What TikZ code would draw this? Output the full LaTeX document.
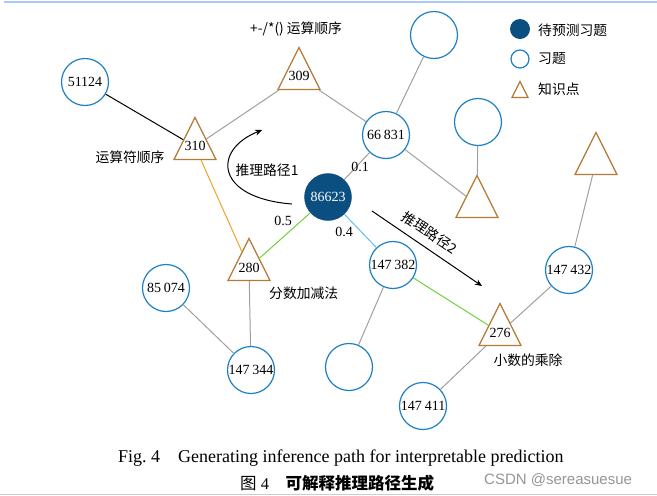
\documentclass[tikz,border=0pt]{standalone}
\usepackage{fontspec}
\setmainfont{Liberation Serif}
\newfontfamily\cjk{Noto Sans CJK SC}
\newfontfamily\wm{Liberation Sans}
\usetikzlibrary{shapes.geometric,arrows.meta}
\definecolor{circblue}{RGB}{30,128,196}
\definecolor{fillblue}{RGB}{11,79,129}
\definecolor{tribrown}{RGB}{181,122,53}
\definecolor{edgegrey}{RGB}{160,160,160}
\definecolor{edgeorange}{RGB}{245,160,40}
\definecolor{edgegreen}{RGB}{110,210,60}
\definecolor{edgelblue}{RGB}{100,190,240}
\definecolor{topline}{RGB}{170,200,250}
\definecolor{wmgrey}{RGB}{150,150,150}
\begin{document}
\begin{tikzpicture}[x=1pt,y=-1pt,
  circ/.style={circle,draw=circblue,line width=1.2pt,minimum size=47pt,inner sep=0pt,font=\fontsize{14}{16}\selectfont},
  pred/.style={circle,fill=fillblue,draw=fillblue,minimum size=47pt,inner sep=0pt,text=white,font=\fontsize{14}{16}\selectfont},
  tri/.style={isosceles triangle,isosceles triangle stretches,shape border rotate=90,draw=tribrown,line width=1.2pt,inner sep=0pt,minimum width=42pt,minimum height=42pt,anchor=apex},
  num/.style={inner sep=0pt,font=\fontsize{14}{16}\selectfont},
  zh/.style={inner sep=0pt,font=\cjk\fontsize{13.8}{16}\selectfont},
  gedge/.style={draw=edgegrey,line width=1pt},
  arr/.style={line width=1pt,-{Stealth[length=7pt,width=6pt]}}
]
\useasboundingbox (0,0) rectangle (657,496);
\fill[white] (0,0) rectangle (657,496);
\draw[topline,line width=2pt] (4,2) -- (657,2);
\draw[black!20,line width=0.8pt] (0,494) -- (657,494);

% nodes
\node[circ] (c51124) at (85,82) {51124};
\node[tri] (k310) at (195,116) {};
\node[num] (k310n) at (195,146) {310};
\node[tri] (k309) at (299,46) {};
\node[num] (k309n) at (299,76) {309};
\node[circ] (c66831) at (386,135) {66\hspace{3pt}831};
\node[circ] (ctop) at (434,35) {};
\node[circ] (cright) at (478,122) {};
\node[tri] (kright) at (477,174) {};
\node[tri] (kfar) at (596,131) {};
\node[pred] (p86623) at (328,197) {86623};
\node[tri] (k280) at (249,237) {};
\node[num] (k280n) at (249,268) {280};
\node[circ] (c147382) at (393,265) {147\hspace{3pt}382};
\node[circ] (c85074) at (166,288) {85\hspace{3pt}074};
\node[circ] (c147344) at (251,370) {147\hspace{3pt}344};
\node[circ] (clow) at (349,367) {};
\node[tri] (k276) at (500,302) {};
\node[num] (k276n) at (500,333) {276};
\node[circ] (c147432) at (569,270) {147\hspace{3pt}432};
\node[circ] (c147411) at (423,406) {147\hspace{3pt}411};

% edges
\draw[line width=1pt] (c51124) -- (k310);
\draw[gedge] (k310) -- (k309);
\draw[gedge] (k309) -- (c66831);
\draw[gedge] (c66831) -- (ctop);
\draw[gedge] (c66831) -- (kright);
\draw[gedge] (cright) -- (kright);
\draw[gedge] (p86623) -- (c66831);
\draw[draw=edgeorange,line width=1pt] (k310) -- (k280);
\draw[draw=edgegreen,line width=1pt] (p86623) -- (k280);
\draw[draw=edgelblue,line width=1pt] (p86623) -- (c147382);
\draw[gedge] (k280) -- (c147344);
\draw[gedge] (c85074) -- (c147344);
\draw[gedge] (c147382) -- (clow);
\draw[draw=edgegreen,line width=1pt] (c147382) -- (k276);
\draw[gedge] (k276) -- (c147432);
\draw[gedge] (k276) -- (c147411);
\draw[gedge] (kfar) -- (c147432);

% weights
\node[num] (w01) at (360,167) {0.1};
\node[num] (w05) at (283,221) {0.5};
\node[num] (w04) at (344,232) {0.4};

% texts
\node[zh,anchor=west] (t309) at (250,29) {+-/*()\hspace{3pt}运算顺序};
\node[zh] (t310) at (130,157) {运算符顺序};
\node[zh,anchor=west] (t280) at (269,293) {分数加减法};
\node[zh] (t276) at (528,360) {小数的乘除};

% inference paths
\coordinate (a1s) at (292,204);
\coordinate (a1e) at (262,130);
\draw[arr] (a1s) .. controls (215,198) and (212,150) .. (a1e);
\node[zh] (p1) at (267,170) {推理路径1};
\coordinate (a2s) at (372,211);
\coordinate (a2e) at (482,286);
\draw[arr] (a2s) -- node[zh,sloped,above,inner sep=8pt,pos=0.45] (p2) {推理路径2} (a2e);

% legend
\node[circle,fill=fillblue,minimum size=20pt,inner sep=0pt] (lg1) at (520,29) {};
\node[zh,anchor=west] (lg1t) at (538,30) {待预测习题};
\node[circle,draw=circblue,line width=1.2pt,minimum size=18pt,inner sep=0pt] (lg2) at (520,59) {};
\node[zh,anchor=west] (lg2t) at (538,59) {习题};
\node[isosceles triangle,isosceles triangle stretches,shape border rotate=90,draw=tribrown,line width=1.2pt,inner sep=0pt,minimum width=16pt,minimum height=16pt,anchor=apex] (lg3) at (520,80) {};
\node[zh,anchor=west] (lg3t) at (538,89) {知识点};

% caption
\node[inner sep=0pt,font=\fontsize{18}{20}\selectfont,anchor=west] (cap1) at (118,458) {Fig.\ 4\hspace{1em}Generating inference path for interpretable prediction};
\node[inner sep=0pt,font=\fontsize{16.5}{19}\selectfont,anchor=west] (cap2) at (240,483) {{\cjk 图}\ 4\hspace{1em}{\cjk\bfseries 可解释推理路径生成}};
\node[inner sep=0pt,font=\wm\fontsize{15}{18}\selectfont,text=wmgrey,anchor=west] (wm) at (484,480) {CSDN @sereasuesue};
\end{tikzpicture}
\end{document}
